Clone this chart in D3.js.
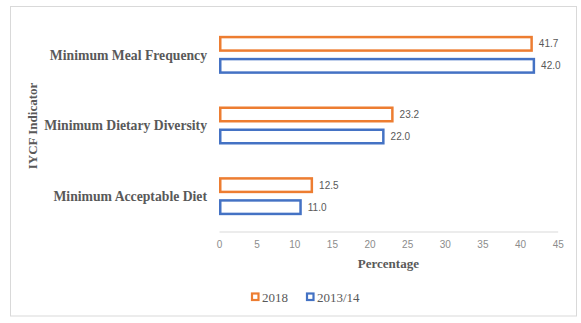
<!DOCTYPE html>
<html>
<head>
<meta charset="utf-8">
<script src="https://cdn.jsdelivr.net/npm/d3@7"></script>
<style>
  html, body { margin: 0; padding: 0; background: #fff; }
  svg { display: block; }
</style>
</head>
<body>
<svg id="chart" width="581" height="323"></svg>
<script>
// IYCF indicators, two survey rounds
const categories = ["Minimum Meal Frequency", "Minimum Dietary Diversity", "Minimum Acceptable Diet"];
const seriesNames = ["2018", "2013/14"];
const values2018 = [41.7, 23.2, 12.5];
const values2013 = [42.0, 22.0, 11.0];
const xTicks = [0, 5, 10, 15, 20, 25, 30, 35, 40, 45];
const colors = ["#ED7D31", "#4472C4"];

const seriesValues = [values2018, values2013];
const svg = d3.select("#chart");

const serif = "Liberation Serif, DejaVu Serif, serif";
const sans = "Liberation Sans, Arial, sans-serif";
const textGray = "#595959";

// outer frame
svg.append("rect")
  .attr("x", 10.5).attr("y", 6.5)
  .attr("width", 566).attr("height", 309.5)
  .attr("fill", "#fff").attr("stroke", "#d9d9d9").attr("stroke-width", 1);

const x = d3.scaleLinear().domain([0, 45]).range([219, 557.7]);
const y = d3.scaleBand().domain(categories).range([19.5, 231.5]);
const ySeries = d3.scaleBand().domain(seriesNames)
  .range([0, y.bandwidth()]).paddingInner(0.273).paddingOuter(0.742);

// horizontal axis line and tick labels
const axisG = svg.append("g").attr("transform", `translate(0,${231.5})`);
axisG.call(d3.axisBottom(x).tickValues(xTicks).tickSize(0).tickPadding(9).tickFormat(d3.format("d")));
axisG.select(".domain").attr("stroke", "#d9d9d9").attr("stroke-width", 1);
axisG.selectAll("text")
  .attr("font-family", sans).attr("font-size", 10).attr("fill", "#8c8c8c");

// bars (outlined)
const sw = 2.5;
const groups = svg.append("g").selectAll("g")
  .data(categories).join("g")
  .attr("transform", d => `translate(0,${y(d)})`);

seriesNames.forEach((s, si) => {
  groups.append("rect")
    .attr("x", x(0) + sw / 2)
    .attr("y", ySeries(s) + sw / 2)
    .attr("width", (d, i) => x(seriesValues[si][i]) - x(0) - sw)
    .attr("height", ySeries.bandwidth() - sw)
    .attr("fill", "#fff")
    .attr("stroke", colors[si])
    .attr("stroke-width", sw);

  groups.append("text")
    .attr("x", (d, i) => x(seriesValues[si][i]) + 6)
    .attr("y", ySeries(s) + ySeries.bandwidth() / 2)
    .attr("dy", "0.35em")
    .attr("font-family", sans).attr("font-size", 10).attr("fill", textGray)
    .text((d, i) => seriesValues[si][i].toFixed(1));
});

// category labels
svg.append("g").selectAll("text")
  .data(categories).join("text")
  .attr("x", 207)
  .attr("y", d => y(d) + y.bandwidth() / 2)
  .attr("dy", "0.35em")
  .attr("text-anchor", "end")
  .attr("font-family", serif).attr("font-weight", "bold").attr("font-size", 13.7)
  .attr("fill", textGray)
  .text(d => d);

// axis titles
svg.append("text")
  .attr("transform", `translate(37,126) rotate(-90)`)
  .attr("text-anchor", "middle")
  .attr("font-family", serif).attr("font-weight", "bold").attr("font-size", 13)
  .attr("fill", textGray)
  .text("IYCF Indicator");

svg.append("text")
  .attr("x", (x(0) + x(45)) / 2).attr("y", 268)
  .attr("text-anchor", "middle")
  .attr("font-family", serif).attr("font-weight", "bold").attr("font-size", 13)
  .attr("fill", textGray)
  .text("Percentage");

// legend
const legendX = [251, 306];
const legend = svg.append("g").selectAll("g")
  .data(seriesNames).join("g")
  .attr("transform", (d, i) => `translate(${legendX[i]},292.5)`);
legend.append("rect")
  .attr("x", 1).attr("y", 1).attr("width", 6.5).attr("height", 6.5)
  .attr("fill", "#fff")
  .attr("stroke", (d, i) => colors[i]).attr("stroke-width", 2.2);
legend.append("text")
  .attr("x", 11).attr("y", 4.5).attr("dy", "0.35em")
  .attr("font-family", serif).attr("font-size", 13).attr("fill", textGray)
  .text(d => d);
</script>
</body>
</html>
